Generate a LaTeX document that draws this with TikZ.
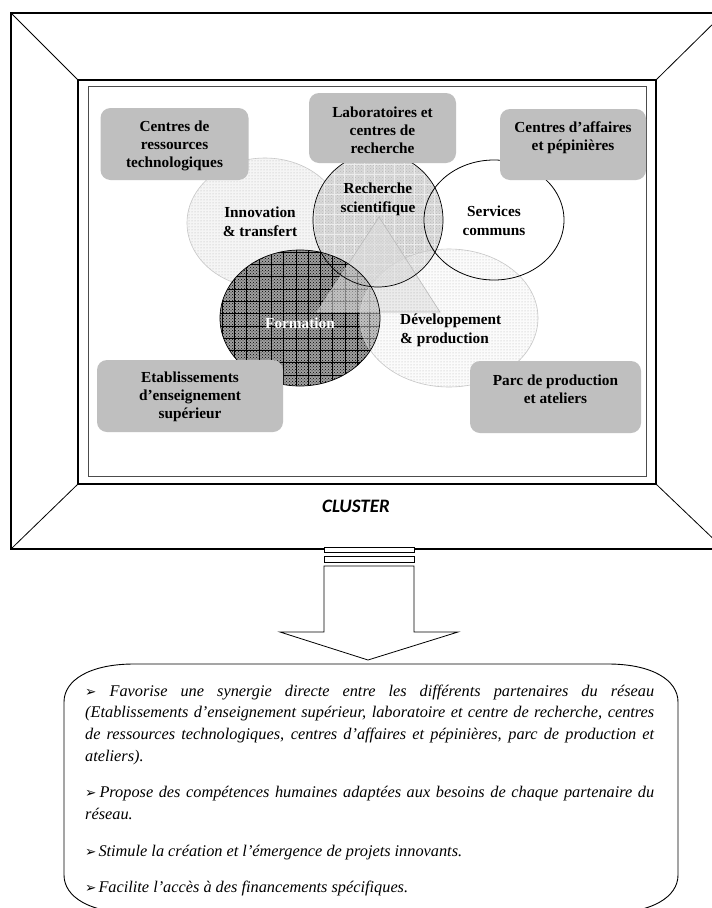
\documentclass[tikz,border=0pt]{standalone}
\usepackage{fontspec}
\setmainfont{Liberation Serif}
\newfontfamily\clusterfont{Carlito}
\newfontfamily\arrowfont{DejaVu Sans}
\usetikzlibrary{patterns}

\newcommand{\bul}{{\arrowfont\fontsize{13.5}{13.5}\selectfont ➢}}
\newcommand{\jline}[1]{\makebox[569pt][s]{#1}}

\begin{document}
\begin{tikzpicture}[x=1pt,y=-1pt,
  tag/.style={fill=gray!50, rounded corners=10pt, inner sep=0pt},
  tagtext/.style={font=\bfseries\fontsize{15.3}{18}\selectfont, align=center, inner sep=0pt},
  bubble/.style={font=\bfseries\fontsize{15.3}{19}\selectfont, align=center, inner sep=0pt},
  txt/.style={font=\itshape\fontsize{16.3}{22}\selectfont, anchor=base west, inner sep=0pt},
  frameline/.style={line width=1.1pt},
  thinline/.style={line width=0.8pt}]

\useasboundingbox (0,0) rectangle (712,908);
\fill[white] (0,0) rectangle (712,908);
\clip (0,0) rectangle (712,908);

% ---------------- screen frame ----------------
\coordinate (oTL) at (11,13);
\coordinate (oTR) at (724,13);
\coordinate (oBL) at (11,549);
\coordinate (oBR) at (724,549);
\coordinate (iTL) at (78,80);
\coordinate (iTR) at (656,80);
\coordinate (iBL) at (78,484);
\coordinate (iBR) at (656,484);
\draw[frameline] (oTL) rectangle (oBR);
\draw[thinline] (oTL) -- (iTL) (oTR) -- (iTR) (oBL) -- (iBL) (oBR) -- (iBR);
\draw[frameline] (iTL) rectangle (iBR);
\draw[line width=0.8pt, black!70] (88,86) rectangle (646,476);

% ---------------- overlapping fields ----------------
% Innovation & transfert
\fill[gray!8] (265,223) ellipse [x radius=78pt, y radius=65pt];
\fill[pattern=dots, pattern color=gray!60] (265,223) ellipse [x radius=78pt, y radius=65pt];
\draw[gray!45, line width=0.6pt] (265,223) ellipse [x radius=78pt, y radius=65pt];

% Recherche scientifique
\begin{scope}
  \clip (378,220) ellipse [x radius=65pt, y radius=67pt];
  \fill[gray!30] (300,140) rectangle (460,300);
  \fill[pattern=crosshatch dots, pattern color=gray!55] (300,140) rectangle (460,300);
  \foreach \gx in {304,314,...,454} \draw[white!85!gray, line width=0.6pt] (\gx,140) -- (\gx,300);
  \foreach \gy in {144,154,...,294} \draw[white!85!gray, line width=0.6pt] (300,\gy) -- (460,\gy);
\end{scope}

% Formation
\begin{scope}
  \clip (300,318) ellipse [x radius=80pt, y radius=68pt];
  \fill[gray!75] (215,245) rectangle (385,390);
  \fill[pattern=crosshatch dots, pattern color=black] (215,245) rectangle (385,390);
  \foreach \gx in {222,234.3,...,385} \draw[black, line width=0.6pt] (\gx,245) -- (\gx,390);
  \foreach \gy in {252,264.3,...,390} \draw[black, line width=0.6pt] (215,\gy) -- (385,\gy);
\end{scope}

% Developpement & production
\fill[gray!8, fill opacity=0.4] (449,318) ellipse [x radius=89pt, y radius=69pt];
\fill[pattern=dots, pattern color=gray!60] (449,318) ellipse [x radius=89pt, y radius=69pt];
\draw[gray!45, line width=0.6pt] (449,318) ellipse [x radius=89pt, y radius=69pt];

% central triangle
\fill[gray!25, fill opacity=0.55] (379,217) -- (317,312) -- (440,312) -- cycle;
\fill[pattern=dots, pattern color=gray!50] (379,217) -- (317,312) -- (440,312) -- cycle;
\draw[gray!55, line width=0.6pt] (379,217) -- (317,312) -- (440,312) -- cycle;

% outlines on top
\draw[black, line width=0.7pt] (378,220) ellipse [x radius=65pt, y radius=67pt];
\draw[black, line width=0.7pt] (300,318) ellipse [x radius=80pt, y radius=68pt];
\draw[black, line width=0.8pt] (494,220) ellipse [x radius=70pt, y radius=60pt];

% ---------------- partner boxes ----------------
\node[tag, minimum width=148pt, minimum height=72pt] (crt) at (174.5,144) {};
\node[tagtext] (crtT) at (174.5,146) {Centres de\\ressources\\technologiques};

\node[tag, minimum width=147pt, minimum height=70pt] (lab) at (382.5,128) {};
\node[tagtext] (labT) at (382.5,130) {Laboratoires et\\centres de\\recherche};

\node[tag, minimum width=146pt, minimum height=71pt] (aff) at (573,144.5) {};
\node[tagtext] (affT) at (573,138) {Centres d’affaires\\et pépinières};

\node[tag, minimum width=186pt, minimum height=72pt] (ens) at (190,396) {};
\node[tagtext] (ensT) at (190,397) {Etablissements\\d’enseignement\\supérieur};

\node[tag, minimum width=171pt, minimum height=72pt] (parc) at (555.5,397) {};
\node[tagtext] (parcT) at (555.5,389) {Parc de production\\et ateliers};

% ---------------- field labels ----------------
\node[bubble] (innov) at (260,222) {Innovation\\\& transfert};
\node[bubble] (rech) at (378,199) {Recherche\\scientifique};
\node[bubble] (serv) at (494,221) {Services\\communs};
\node[bubble, text=white] (form) at (300,323) {Formation};
\node[bubble, align=left, anchor=west] (dev) at (400,330) {Développement\\\& production};

% ---------------- caption ----------------
\node[font=\clusterfont\bfseries\itshape\fontsize{19}{22}\selectfont, inner sep=0pt] (cluster) at (356,506) {CLUSTER};

% ---------------- arrow ----------------
\draw[thinline, fill=white] (324,547) rectangle (414,552);
\draw[thinline, fill=white] (324,556) rectangle (414,562);
\draw[thinline, fill=white] (324,566) -- (324,632) -- (280,632) -- (368,660)
  -- (458,632) -- (414,632) -- (414,566) -- cycle;

% ---------------- summary box ----------------
\coordinate (summary) at (371,786);
\draw[line width=0.9pt] (134,664) -- (608,664)
  .. controls (652,664) and (678,680) .. (678,702) -- (678,875)
  .. controls (678,897) and (652,913) .. (608,913) -- (134,913)
  .. controls (90,913) and (64,897) .. (64,875) -- (64,702)
  .. controls (64,680) and (90,664) .. (134,664) -- cycle;

\node[txt] (l1) at (85,696) {\jline{\bul{} Favorise une synergie directe entre les différents partenaires du réseau}};
\node[txt] (l2) at (85,717.5) {\jline{(Etablissements d’enseignement supérieur, laboratoire et centre de recherche, centres}};
\node[txt] (l3) at (85,739) {\jline{de ressources technologiques, centres d’affaires et pépinières, parc de production et}};
\node[txt] (l4) at (85,761) {ateliers).};
\node[txt] (l5) at (85,797) {\jline{\bul\kern3pt Propose des compétences humaines adaptées aux besoins de chaque partenaire du}};
\node[txt] (l6) at (85,819) {réseau.};
\node[txt] (l7) at (85,856) {\bul\kern2pt Stimule la création et l’émergence de projets innovants.};
\node[txt] (l8) at (85,892) {\bul\kern2pt Facilite l’accès à des financements spécifiques.};
\end{tikzpicture}
\end{document}
